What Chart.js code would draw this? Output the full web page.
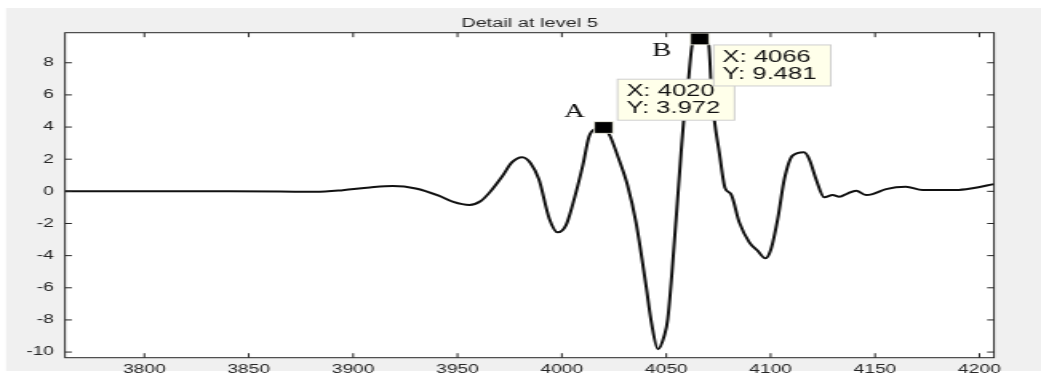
<!DOCTYPE html>
<html>
<head>
<meta charset="utf-8">
<script src="https://cdn.jsdelivr.net/npm/chart.js@4/dist/chart.umd.min.js"></script>
<style>
  html, body { margin:0; padding:0; background:#fff; overflow:hidden; }
  /* the reference is a horizontally stretched figure, so draw narrow and stretch */
  #wrap { position:absolute; left:0; top:0; width:651px; height:381px; transform:scaleX(1.5991); transform-origin:0 0; }
</style>
</head>
<body>
<div id="wrap"><canvas id="c" width="651" height="381"></canvas></div>
<script>
// detail coefficients, level 5
const xs = [3762, 3800, 3840, 3865, 3882, 3895, 3908, 3919, 3930, 3941, 3948, 3955.7, 3961, 3965.3,
  3971.6, 3976, 3981, 3985, 3989, 3994, 3998, 4002, 4005, 4010, 4013, 4016, 4020, 4023, 4027,
  4031.5, 4035.5, 4040.3, 4043, 4046, 4049, 4050.7, 4054.7, 4057.1, 4058.4, 4060.2, 4062.6, 4066,
  4070.3, 4071.6, 4073, 4075.4, 4078.2, 4081, 4085, 4089.8, 4093.8, 4097.5, 4100.2, 4103.4,
  4106.6, 4110.5, 4116, 4118.5, 4121.7, 4125.7, 4129.7, 4132.9, 4137, 4140.9, 4145.7, 4148.8,
  4155.3, 4164.8, 4172.8, 4188.8, 4196.7, 4207];
const ys = [0, 0, 0, -0.01, -0.03, 0.07, 0.24, 0.33, 0.18, -0.27, -0.66, -0.85, -0.62, -0.08,
  0.97, 1.8, 2.12, 1.75, 0.75, -1.7, -2.55, -2.1, -0.9, 1.6, 3.4, 3.88, 3.972, 3.46, 2.1,
  0.35, -1.93, -5.87, -8.25, -9.82, -9.0, -7.95, -1.72, 2.43, 4.5, 6.37, 9.2, 9.481,
  9.1, 6.4, 4.5, 2.43, 0.2, -0.17, -1.93, -3.17, -3.7, -4.17, -3.59, -1.72,
  0.77, 2.22, 2.43, 2.0, 0.77, -0.37, -0.23, -0.34, -0.12, 0.04, -0.23, -0.17,
  0.14, 0.29, 0.08, 0.08, 0.19, 0.45];

const tipX = [4020, 4066];
const tipY = [3.972, 9.481];
const tipNames = ['A', 'B'];

const xTicks = [3800, 3850, 3900, 3950, 4000, 4050, 4100, 4150, 4200];
const yTicks = [-10, -8, -6, -4, -2, 0, 2, 4, 6, 8];

const S = 1041 / 651;
const AXIS = '#262626';
const SANS = 'Liberation Sans, Arial, Helvetica, sans-serif';

const bgPlugin = {
  id: 'bg',
  beforeDraw(chart) {
    const { ctx, chartArea: a, width, height } = chart;
    ctx.save();
    ctx.fillStyle = '#fff';
    ctx.fillRect(0, 0, width, height);
    ctx.fillStyle = '#f0f0f0';
    ctx.fillRect(6 / S, 8, width, 363);
    ctx.fillStyle = '#fff';
    ctx.fillRect(a.left, a.top, a.right - a.left, a.bottom - a.top);
    ctx.restore();
  }
};

// box + inward ticks on all four sides
const framePlugin = {
  id: 'frame',
  afterDraw(chart) {
    const { ctx, chartArea: a, scales } = chart;
    ctx.save();
    ctx.strokeStyle = AXIS;
    ctx.lineWidth = 1;
    ctx.beginPath();
    xTicks.forEach(v => {
      const px = scales.x.getPixelForValue(v);
      ctx.moveTo(px, a.bottom); ctx.lineTo(px, a.bottom - 4.5);
      ctx.moveTo(px, a.top); ctx.lineTo(px, a.top + 4.5);
    });
    yTicks.forEach(v => {
      const py = scales.y.getPixelForValue(v);
      ctx.moveTo(a.left, py); ctx.lineTo(a.left + 4.3, py);
      ctx.moveTo(a.right, py); ctx.lineTo(a.right - 4.3, py);
    });
    ctx.stroke();
    ctx.strokeRect(a.left, a.top, a.right - a.left, a.bottom - a.top);
    ctx.restore();
  }
};

// datatip boxes and the A / B labels
const tipBox = { dx: [8.7, 8.8], dy: [-48.3, 6], w: 73.2, h: 41, pad: 5.5, line1: 12.5, line2: 29.5 };
const tipLab = { dx: [-18.2, -23.7], dy: [-15.3, 12] };

const tipsPlugin = {
  id: 'tips',
  afterDatasetsDraw(chart) {
    const { ctx, scales } = chart;
    ctx.save();
    tipX.forEach((xv, i) => {
      const px = scales.x.getPixelForValue(xv);
      const py = scales.y.getPixelForValue(tipY[i]);
      const bx = px + tipBox.dx[i], by = py + tipBox.dy[i];
      ctx.fillStyle = '#ffffea';
      ctx.fillRect(bx, by, tipBox.w, tipBox.h);
      ctx.strokeStyle = '#cfcfcf';
      ctx.lineWidth = 1;
      ctx.strokeRect(bx, by, tipBox.w, tipBox.h);
      ctx.fillStyle = '#111';
      ctx.font = '16px ' + SANS;
      ctx.textAlign = 'left';
      ctx.textBaseline = 'middle';
      ctx.fillText('X: ' + xv, bx + tipBox.pad, by + tipBox.line1);
      ctx.fillText('Y: ' + tipY[i].toFixed(3), bx + tipBox.pad, by + tipBox.line2);

      ctx.font = '18px Liberation Serif, Times New Roman, serif';
      ctx.textAlign = 'center';
      ctx.fillText(tipNames[i], px + tipLab.dx[i], py + tipLab.dy[i]);
    });
    ctx.restore();
  }
};

const chart = new Chart(document.getElementById('c'), {
  type: 'line',
  data: {
    datasets: [
      {
        data: tipX.map((x, i) => ({ x, y: tipY[i] })),
        showLine: false,
        pointStyle: 'rect',
        pointRadius: 8.3,
        pointBackgroundColor: '#000',
        pointBorderColor: '#fffff0',
        pointBorderWidth: 0.8,
        clip: false,
        order: 0
      },
      {
        data: xs.map((x, i) => ({ x, y: ys[i] })),
        borderColor: '#111',
        borderWidth: 2,
        pointRadius: 0,
        cubicInterpolationMode: 'monotone',
        fill: false,
        order: 1
      }
    ]
  },
  options: {
    responsive: false,
    animation: false,
    events: [],
    layout: { padding: { left: 0, right: 29.4, top: 0, bottom: 0 } },
    plugins: {
      legend: { display: false },
      tooltip: { enabled: false },
      title: {
        display: true,
        fullSize: false,
        text: 'Detail at level 5',
        color: AXIS,
        font: { family: SANS, size: 12.5, weight: 'normal' },
        padding: { top: 16, bottom: 1.7 }
      }
    },
    scales: {
      x: {
        type: 'linear',
        min: 3762,
        max: 4207,
        grid: { display: false, drawTicks: false },
        border: { display: false },
        afterBuildTicks: s => { s.ticks = xTicks.map(v => ({ value: v })); },
        afterFit: s => { s.height = 23.3; },
        ticks: { color: AXIS, font: { family: SANS, size: 12 }, padding: 4.4, maxRotation: 0, autoSkip: false,
          callback: v => String(v) }
      },
      y: {
        min: -10.35,
        max: 9.87,
        grid: { display: false, drawTicks: false },
        border: { display: false },
        afterBuildTicks: s => { s.ticks = yTicks.map(v => ({ value: v })); },
        afterFit: s => { s.width = 40.65; },
        ticks: { color: AXIS, font: { family: SANS, size: 12 }, padding: 6.9, autoSkip: false,
          callback: v => String(v) }
      }
    }
  },
  plugins: [bgPlugin, framePlugin, tipsPlugin]
});
</script>
</body>
</html>
